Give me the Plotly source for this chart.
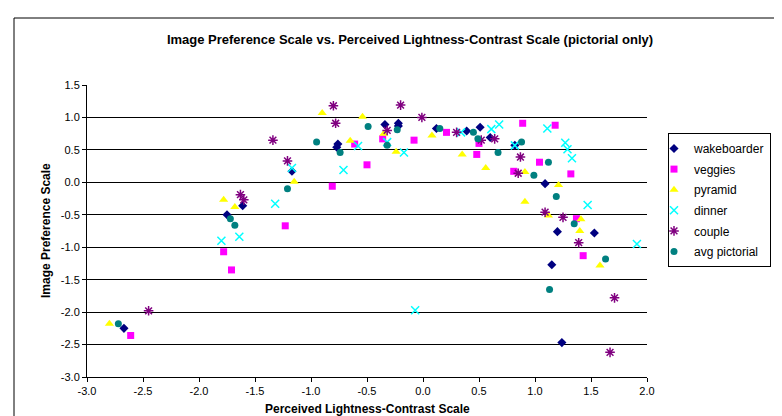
import plotly.graph_objects as go

# ---------------- data ----------------
wake_x = [-2.67, -1.17, -1.61, -1.75, -0.76, -0.77, -0.34, -0.22, -0.22, 0.12, 0.39, 0.51, 0.60, 0.82, 1.09, 1.20, 1.53, 1.15, 1.24]
wake_y = [-2.25, 0.17, -0.36, -0.50, 0.59, 0.54, 0.89, 0.91, 0.87, 0.83, 0.79, 0.85, 0.69, 0.57, -0.02, -0.76, -0.78, -1.27, -2.47]

veg_x = [-2.61, -1.23, -1.78, -1.71, -0.61, -0.50, -0.81, -0.36, -0.08, 0.21, 0.89, 0.50, 0.48, 0.81, 1.04, 1.18, 1.32, 1.37, 1.43]
veg_y = [-2.36, -0.67, -1.07, -1.35, 0.59, 0.27, -0.06, 0.67, 0.65, 0.77, 0.91, 0.60, 0.43, 0.17, 0.31, 0.88, 0.13, -0.56, -1.13]

pyr_x = [-2.80, -1.15, -1.78, -1.68, -0.90, -0.54, -0.65, -0.35, -0.24, 0.08, 0.35, 0.56, 0.91, 0.91, 1.21, 1.12, 1.41, 1.40, 1.58]
pyr_y = [-2.18, 0.01, -0.27, -0.38, 1.07, 1.01, 0.64, 0.75, 0.47, 0.72, 0.43, 0.22, 0.16, -0.30, -0.04, -0.51, -0.57, -0.75, -1.28]

din_x = [-1.17, -1.32, -1.64, -1.80, -0.58, -0.71, -0.32, -0.17, 0.34, 0.61, 0.68, 0.82, 1.11, 1.27, 1.29, 1.33, 1.47, 1.91, -0.07]
din_y = [0.22, -0.33, -0.84, -0.90, 0.56, 0.19, 0.62, 0.46, 0.77, 0.82, 0.89, 0.57, 0.83, 0.61, 0.51, 0.37, -0.35, -0.95, -1.97]

cou_x = [-2.45, -1.21, -1.63, -1.60, -0.80, -0.78, -1.34, -0.20, -0.01, -0.32, 0.30, 0.52, 0.64, 0.87, 0.85, 1.09, 1.25, 1.39, 1.71, 1.67]
cou_y = [-1.98, 0.33, -0.19, -0.27, 1.18, 0.91, 0.65, 1.19, 1.00, 0.80, 0.77, 0.65, 0.67, 0.39, 0.14, -0.46, -0.54, -0.93, -1.78, -2.62]

avg_x = [-2.72, -1.21, -1.72, -1.68, -0.49, -0.95, -0.74, -0.23, -0.32, 0.15, 0.45, 0.49, 0.67, 0.88, 0.99, 1.12, 1.19, 1.35, 1.63, 1.13]
avg_y = [-2.18, -0.10, -0.56, -0.66, 0.86, 0.62, 0.46, 0.81, 0.57, 0.83, 0.77, 0.67, 0.46, 0.62, 0.11, 0.31, -0.22, -0.64, -1.18, -1.65]

x_ticks = [-3.0, -2.5, -2.0, -1.5, -1.0, -0.5, 0.0, 0.5, 1.0, 1.5, 2.0]
x_tick_labels = ["-3.0", "-2.5", "-2.0", "-1.5", "-1.0", "-0.5", "0.0", "0.5", "1.0", "1.5", "2.0"]
y_ticks = [-3.0, -2.5, -2.0, -1.5, -1.0, -0.5, 0.0, 0.5, 1.0, 1.5]
y_tick_labels = ["-3.0", "-2.5", "-2.0", "-1.5", "-1.0", "-0.5", "0.0", "0.5", "1.0", "1.5"]

FONT = "Arial, 'Liberation Sans', sans-serif"

fig = go.Figure()
fig.add_trace(go.Scatter(x=wake_x, y=wake_y, mode="markers", name="wakeboarder", legendgroup="g1",
                         marker=dict(symbol="diamond", size=7, color="#000080")))
fig.add_trace(go.Scatter(x=veg_x, y=veg_y, mode="markers", name="veggies", legendgroup="g2",
                         marker=dict(symbol="square", size=7, color="#FF00FF")))
fig.add_trace(go.Scatter(x=pyr_x, y=pyr_y, mode="markers", name="pyramid", legendgroup="g3",
                         marker=dict(symbol="triangle-up", size=8, color="#FFFF00")))
fig.add_trace(go.Scatter(x=din_x, y=din_y, mode="markers", name="dinner", legendgroup="g4",
                         marker=dict(symbol="x-thin-open", size=8, color="#00FFFF",
                                     line=dict(width=1.5, color="#00FFFF"))))
fig.add_trace(go.Scatter(x=cou_x, y=cou_y, mode="markers", name="couple", legendgroup="g5",
                         marker=dict(symbol="asterisk-open", size=8, color="#800080",
                                     line=dict(width=1.5, color="#800080"))))
fig.add_trace(go.Scatter(x=avg_x, y=avg_y, mode="markers", name="avg pictorial", legendgroup="g6",
                         marker=dict(symbol="circle", size=7, color="#008080")))

# plot area 79..639 x, 77..369 y
L, R, T, B = 79, 639, 77, 369
W, H = 782, 416
pw, ph = R - L, B - T

fig.update_layout(
    width=W, height=H,
    margin=dict(l=L, r=W - R, t=T, b=H - B, pad=0),
    paper_bgcolor="white", plot_bgcolor="white",
    font=dict(family=FONT, size=11, color="black"),
    title=dict(text="<b>Image Preference Scale vs. Perceived Lightness-Contrast Scale (pictorial only)</b>",
               font=dict(family=FONT, size=13, color="black"),
               xref="container", yref="container", x=402 / W, y=1 - 31 / H,
               xanchor="center", yanchor="middle"),
    showlegend=True,
    legend=dict(x=(660 - L) / pw, y=(B - 125) / ph, xanchor="left", yanchor="top",
                bgcolor="white", bordercolor="black", borderwidth=1,
                font=dict(family=FONT, size=12, color="black"),
                itemwidth=30, tracegroupgap=1.6, indentation=-15),
    xaxis=dict(range=[-3, 2], tickvals=x_ticks, ticktext=x_tick_labels,
               showgrid=False, zeroline=False, showline=True, linecolor="black", linewidth=1,
               ticks="outside", ticklen=4, tickcolor="black",
               tickfont=dict(family=FONT, size=11, color="black")),
    yaxis=dict(range=[-3, 1.5], tickvals=y_ticks, ticktext=y_tick_labels,
               showgrid=True, gridcolor="black", gridwidth=1, zeroline=False,
               showline=True, linecolor="black", linewidth=1,
               ticks="outside", ticklen=4, tickcolor="black",
               tickfont=dict(family=FONT, size=11, color="black")),
    annotations=[
        dict(text="<b>Perceived Lightness-Contrast Scale</b>", xref="paper", yref="paper",
             x=0.5, y=(B - 401) / ph, xanchor="center", yanchor="middle", showarrow=False,
             font=dict(family=FONT, size=12, color="black")),
        dict(text="<b>Image Preference Scale</b>", xref="paper", yref="paper",
             x=(38 - L) / pw, y=0.5, xanchor="center", yanchor="middle", showarrow=False,
             textangle=-90, font=dict(family=FONT, size=12, color="black")),
    ],
    shapes=[
        dict(type="rect", xref="paper", yref="paper",
             x0=(6 - L) / pw, x1=(830 - L) / pw, y0=(B - 460) / ph, y1=(B - 10) / ph,
             line=dict(color="black", width=1), fillcolor="rgba(0,0,0,0)", layer="below"),
    ],
)

fig.write_html("out.html")
